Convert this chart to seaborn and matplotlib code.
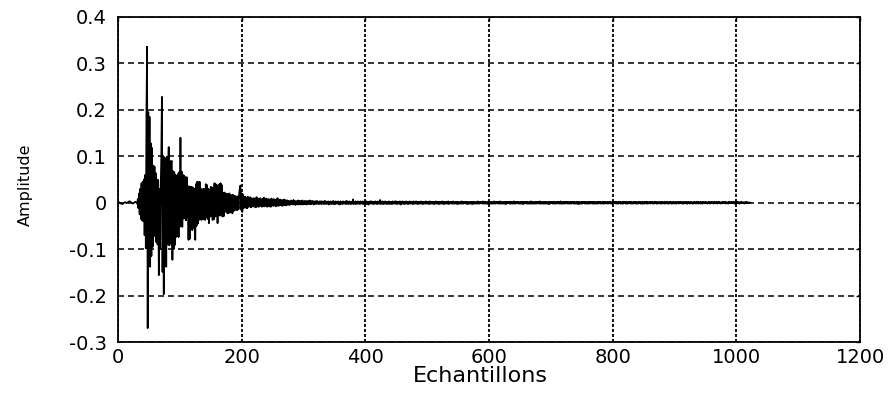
import numpy as np
import pandas as pd
import matplotlib
matplotlib.use("Agg")
import matplotlib.pyplot as plt
import seaborn as sns

# Impulse response amplitudes, in thousandths, one value per sample
quiet = [0, 1, 1, 0, -1, -2, -2, -3, -2, -1, 0, 1, 1, 0, -1, 0, 1, 2, 3, 3,
         2, 1, 0, -1, -2, -1, 0, 1, 2, 1, 0, -2]
onset = [8, -12, 20, -25, 30, -35, 42, -38, 45, -40, 50, -70, 60, -98]
burst = [190, 336, -270, 195, -120, 185, -138, 128, -115, 118, -95, 80,
         -72, 78, -68, 64, -85, 50, -90, 49, -156, 30, -100, 27,
         99, 228, -149, 99, -197, 98, -110, 95, -138, 99, -90, 70, 120, -92,
         90, -88, 88, 90, -123, 68, -100, 66, -91, 60, -74, 58, -72, 62, -74, 66,
         -52, 140, -50, 67, -52, 60, -34, 58, -34, 55, -38, 55, -30, 36, -80,
         35, -78, 34, -45, 34, -59, 33, -55, 30, -60]
decay = [-80, 40, -50, 45, -45, 44, -37, 45, -36, 30, -37, 28, -35, 30, -36,
         29, -37, 40, -30, 38, -35, 30, -44, 28, -30, 34, -28, 33, -37, 32,
         -36, 42, -30, 40, -28, 38, -44, 30, -26, 40, -28, 42, -25, 38, -30,
         20, -29, 22, -20, 20, -18, 18, -23, 19, -22, 20, -21, 17, -20, 16,
         -23, 17, -18, 15, -16, 14, -15, 13, -16, 14, -14, 20, 31, 37, -15,
         20, -20, 18, -12, 12, -10, 13, -11, 10, -12, 13, -9, 10, -8, 12,
         -10, 9, -8]
late = [9, -8, 10, -9, 8, -10, 12, -7, 9, -9, 8, -8, 10, -6, 7, -9, 9, -7, 11, -8,
        8, -6, 9, -9, 7, -7, 8, -8, 6, -9, 9, -6, 7, -7, 8, -5, 6, -8, 7, -6,
        10, -7, 6, -6, 7, -5, 6, -7, 5, -6, 7, -5, 6, -6, 5, -5,
        5, -4, 4, -5, 3, -4, 5, -3, 4, -4, 6, -3, 4, -5, 3, -3, 4, -4, 5, -3,
        3, -4, 4, -3, 5, -4, 3, -3, 4, -3, 3, -4, 4, -2, 3, -3, 5, -3, 3, -3,
        4, -2, 3, -4, 3, -2, 3, -3, 4, -2, 2, -3, 3, -2, 3, -3]
tail = [3, -2, 2, -3, 4, -2, 3, -3, 2, -2, 3, -4, 2, -2, 3, -3, 2, -2, 4, -3,
        2, -3, 3, -2, 2, -2, 3, -3, 2, -4, 3, -2, 2, -3, 3, -2, 2, -2, 3, -3,
        4, -2, 2, -3, 3, -2, 2, -3, 2, -2, 7, -3, 2, -2, 3, -3, 2, -2, 3, -2,
        2, -3, 3, -2, 2, -2, 3, -3, 2, -2, 2, -3, 3, -2, 2, -4, 2, -2, 3, -2,
        3, -2, 2, -3, 2, -2, 3, -2, 2, -3, 3, -2, 2, -2, 6, -3, 2, -2, 3, -3,
        2, -2, 3, -2, 2, -3, 2, -2, 3, -3, 2, -2, 2, -3, 3, -2, 2, -2, 3, -2,
        3, -3, 2, -2, 2, -2, 3, -4, 2, -2, 3, -2, 2, -3, 2, -2, 3, -2, 2, -3,
        2, -2, 3, -2, 2, -2, 2, -3, 3, -2, 2, -2, 3, -2, 2, -3, 2, -2, 2, -2,
        3, -2, 2, -3, 2, -2, 2, -2, 3, -2, 2, -2, 2, -3, 3, -2, 2, -2, 2, -2,
        2, -3, 2, -2, 3, -2, 2, -2, 2, -3, 2, -2, 2, -2, 3, -2, 2, -3, 2, -2,
        2, -2, 2, -2, 3, -3, 2, -1, 2, -2, 2, -2, 3, -2, 1, -2, 2, -2, 2, -3,
        2, -2, 1, -2, 2, -2, 3, -2, 2, -2, 2, -1, 2, -2, 2, -3, 2, -2, 1, -2,
        2, -2, 2, -3, 2, -2, 2, -2, 1, -2, 2, -2, 3, -2, 2, -2, 2, -1, 2, -2,
        3, -2, 2, -2, 2, -2, 1, -2, 2, -3, 2, -2, 2, -2, 2, -2, 1, -2, 3, -2,
        2, -2, 2, -1, 2, -2, 2, -2, 3, -2, 2, -2, 1, -2, 2, -2, 2, -3, 2, -2,
        2, -1, 2, -2, 2, -2, 2, -2, 1, -2, 3, -2, 2, -2, 2, -1, 2, -2, 2, -2,
        1, -2, 2, -2, 2, -3, 2, -2, 2, -1, 2, -2, 2, -2, 1, -2, 2, -2, 3, -2,
        2, -2, 1, -2, 2, -2, 2, -2, 2, -1, 2, -2, 3, -2, 2, -2, 1, -2, 2, -2,
        2, -2, 2, -2, 1, -2, 2, -3, 2, -2, 2, -1, 2, -2, 2, -2, 2, -2, 1, -2,
        2, -1, 2, -2, 2, -2, 3, -2, 1, -2, 2, -2, 2, -2, 2, -1, 2, -2, 2, -2,
        1, -2, 2, -2, 2, -1, 2, -2, 2, -2, 1, -2, 2, -2, 2, -3, 2, -2, 1, -2,
        2, -2, 2, -1, 2, -2, 2, -2, 1, -2, 2, -2, 2, -2, 2, -1, 2, -2, 2, -2,
        2, -2, 1, -2, 2, -2, 2, -2, 2, -1, 2, -2, 1, -2, 2, -2, 2, -2, 2, -1,
        1, -2, 2, -2, 2, -1, 2, -2, 1, -2, 2, -2, 2, -1, 2, -2, 2, -2, 1, -2,
        2, -1, 2, -2, 1, -2, 2, -2, 2, -1, 2, -2, 2, -2, 1, -2, 2, -1, 2, -2,
        2, -2, 1, -2, 2, -1, 2, -2, 2, -2, 1, -2, 2, -1, 2, -2, 1, -2, 2, -2,
        1, -2, 2, -1, 2, -2, 2, -2, 1, -1, 2, -2, 2, -1, 2, -2, 1, -2, 2, -1,
        2, -2, 1, -2, 2, -1, 1, -2, 2, -2, 2, -1, 1, -2, 2, -2, 1, -1, 2, -2,
        1, -2, 2, -1, 2, -2, 1, -2, 2, -1, 1, -2, 2, -2, 1, -1, 2, -2, 2, -1,
        2, -1, 1, -2, 2, -2, 1, -1, 2, -2, 1, -2, 2, -1, 1, -2, 2, -1, 1, -2,
        1, -2, 2, -1, 1, -2, 2, -1, 2, -2, 1, -1, 2, -2, 1, -2, 2, -1, 1, -1,
        2, -1, 1, -2, 1, -1, 2, -2, 1, -1, 2, -1, 1, -2, 2, -1, 1, -1, 2, -2,
        1, -1, 2, -1, 1, -2, 1, -1, 2, -1, 1, -1, 2, -2, 1, -1, 1, -2, 2, -1,
        1, -1, 2, -1, 1, -1, 2, -2, 1, -1, 1, -1, 2, -1, 1, -2, 1, -1, 2, -1,
        1, -1, 1, -2, 1, -1, 2, -1, 1, -1, 1, -1, 0, 0]

x_ticks = [0, 200, 400, 600, 800, 1000, 1200]
x_tick_labels = ["0", "200", "400", "600", "800", "1000", "1200"]
y_ticks = [-0.3, -0.2, -0.1, 0.0, 0.1, 0.2, 0.3, 0.4]
y_tick_labels = ["-0.3", "-0.2", "-0.1", "0", "0.1", "0.2", "0.3", "0.4"]

amp_milli = quiet + onset + burst + decay + late + tail
df = pd.DataFrame({
    "Echantillons": np.arange(len(amp_milli)),
    "Amplitude": np.array(amp_milli, dtype=float) / 1000.0,
})

sns.set_style("white")
plt.rcParams["font.family"] = ["DejaVu Sans"]
plt.rcParams["lines.scale_dashes"] = False

W, H = 891, 397
fig = plt.figure(figsize=(W / 100, H / 100), dpi=100)
left, right, top, bottom = 118, 860, 17, 342
ax = fig.add_axes([left / W, 1 - bottom / H, (right - left) / W, (bottom - top) / H])

sns.lineplot(data=df, x="Echantillons", y="Amplitude", ax=ax,
             color="black", linewidth=1.25, estimator=None, zorder=3)

ax.set_xlim(0, 1200)
ax.set_ylim(-0.3, 0.4)
ax.set_xticks(x_ticks)
ax.set_xticklabels(x_tick_labels)
ax.set_yticks(y_ticks)
ax.set_yticklabels(y_tick_labels)

ax.set_axisbelow(True)
ax.yaxis.grid(True, color="black", linewidth=1.1, linestyle=(0, (4.3, 2.9)))
ax.xaxis.grid(True, color="black", linewidth=1.3, linestyle=(0, (2.2, 1.4)))

for s in ax.spines.values():
    s.set_visible(True)
    s.set_color("black")
    s.set_linewidth(1.3)

ax.tick_params(axis="both", direction="in", length=3, width=1,
               top=True, right=True, colors="black", labelsize=14)
ax.tick_params(axis="x", pad=4)
ax.tick_params(axis="y", pad=8)

ax.set_xlabel("Echantillons", fontsize=16, color="black")
ax.set_ylabel("Amplitude", fontsize=11.5, color="black")
ax.xaxis.set_label_coords(0.489, -0.075)
ax.yaxis.set_label_coords(-0.115, 0.483)

fig.savefig("out.png", dpi=100, facecolor="white")
